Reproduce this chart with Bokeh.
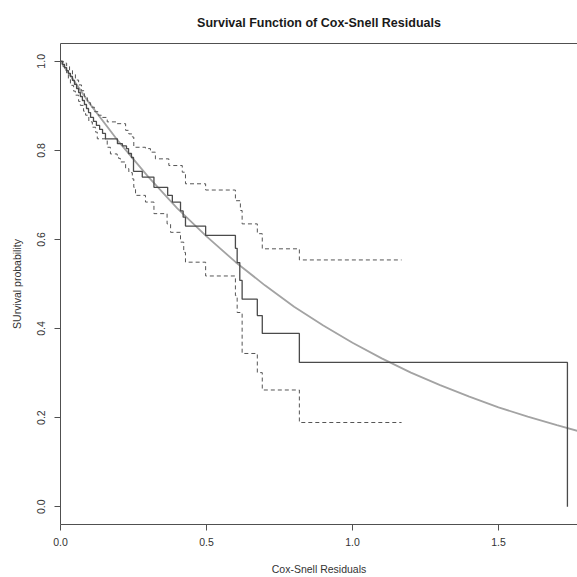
from bokeh.plotting import figure
from bokeh.models import Range1d, FixedTicker, PrintfTickFormatter, LinearAxis
from bokeh.embed import file_html
from bokeh.resources import INLINE

# Kaplan-Meier estimate of the Cox-Snell residuals (time of step, value after step)
km_time = [0.0, 0.007, 0.014, 0.021, 0.027, 0.034, 0.041, 0.048, 0.055, 0.062, 0.068,
           0.075, 0.082, 0.089, 0.096, 0.103, 0.113, 0.123, 0.134, 0.144, 0.154,
           0.195, 0.212, 0.226, 0.233, 0.243, 0.250, 0.280, 0.320, 0.367, 0.383,
           0.411, 0.420, 0.428, 0.497, 0.599, 0.605, 0.614, 0.622, 0.674, 0.691,
           0.818, 1.736]
km_surv = [1.0, 0.993, 0.986, 0.979, 0.973, 0.966, 0.957, 0.948, 0.939, 0.930, 0.921,
           0.912, 0.903, 0.894, 0.885, 0.874, 0.865, 0.856, 0.847, 0.838, 0.826,
           0.815, 0.810, 0.804, 0.793, 0.784, 0.753, 0.740, 0.717, 0.699, 0.684,
           0.664, 0.650, 0.630, 0.609, 0.580, 0.548, 0.508, 0.466, 0.429, 0.389,
           0.324, 0.0]

# upper confidence limit
upper_time = [0.0, 0.010, 0.021, 0.031, 0.041, 0.051, 0.062, 0.072, 0.082, 0.092, 0.103,
              0.116, 0.130, 0.140, 0.160, 0.194, 0.223, 0.234, 0.246, 0.251, 0.291,
              0.308, 0.325, 0.371, 0.417, 0.428, 0.497, 0.599, 0.616, 0.622, 0.674,
              0.691, 0.818, 1.168]
upper_surv = [1.0, 0.996, 0.988, 0.980, 0.971, 0.958, 0.947, 0.934, 0.921, 0.907, 0.897,
              0.887, 0.879, 0.874, 0.864, 0.860, 0.845, 0.837, 0.830, 0.807, 0.804,
              0.796, 0.781, 0.766, 0.751, 0.725, 0.711, 0.687, 0.665, 0.635, 0.613,
              0.579, 0.554, 0.554]

# lower confidence limit
lower_time = [0.0, 0.007, 0.014, 0.021, 0.027, 0.034, 0.045, 0.051, 0.062, 0.068, 0.079,
              0.086, 0.097, 0.109, 0.120, 0.126, 0.154, 0.160, 0.171, 0.194, 0.199,
              0.205, 0.223, 0.234, 0.246, 0.251, 0.257, 0.291, 0.320, 0.365, 0.377,
              0.411, 0.422, 0.428, 0.497, 0.599, 0.605, 0.622, 0.674, 0.691, 0.818,
              1.168]
lower_surv = [1.0, 0.989, 0.980, 0.971, 0.960, 0.946, 0.933, 0.924, 0.910, 0.901, 0.888,
              0.879, 0.864, 0.852, 0.841, 0.826, 0.822, 0.807, 0.792, 0.789, 0.782,
              0.774, 0.759, 0.750, 0.736, 0.717, 0.699, 0.684, 0.658, 0.635, 0.616,
              0.594, 0.571, 0.549, 0.518, 0.474, 0.436, 0.344, 0.301, 0.262, 0.189,
              0.189]

# reference curve (unit exponential survival)
curve_x = [0.0, 0.1, 0.2, 0.3, 0.4, 0.5, 0.6, 0.7, 0.8, 0.9, 1.0,
           1.1, 1.2, 1.3, 1.4, 1.5, 1.6, 1.7, 1.8]
curve_y = [1.0, 0.905, 0.819, 0.741, 0.670, 0.607, 0.549, 0.497, 0.449, 0.407, 0.368,
           0.333, 0.301, 0.273, 0.247, 0.223, 0.202, 0.183, 0.165]

x_ticks = [0.0, 0.5, 1.0, 1.5]
y_ticks = [0.0, 0.2, 0.4, 0.6, 0.8, 1.0]

FONT = "Liberation Sans"
AX = "#505050"

p = figure(width=577, height=577, output_backend="svg", toolbar_location=None,
           x_range=Range1d(0, 1.7705), y_range=Range1d(-0.04, 1.04),
           min_border_left=60, min_border_right=0, min_border_top=43, min_border_bottom=53,
           background_fill_color="white", border_fill_color="white")
p.grid.visible = False
p.outline_line_color = None

p.title.text = "Survival Function of Cox-Snell Residuals"
p.title.align = "center"
p.title.text_font = FONT
p.title.text_font_size = "12.5px"
p.title.text_font_style = "bold"
p.title.text_color = "#1a1a1a"
p.title.standoff = 27

for ax in (p.xaxis[0], p.yaxis[0]):
    ax.axis_line_color = AX
    ax.major_tick_line_color = AX
    ax.major_tick_out = 6
    ax.major_tick_in = 0
    ax.minor_tick_line_color = None
    ax.major_label_text_font = FONT
    ax.major_label_text_font_size = "10.5px"
    ax.major_label_text_color = "#333333"
    ax.axis_label_text_font = FONT
    ax.axis_label_text_font_size = "10.5px"
    ax.axis_label_text_font_style = "normal"
    ax.axis_label_text_color = "#333333"
    ax.formatter = PrintfTickFormatter(format="%.1f")

p.xaxis.ticker = FixedTicker(ticks=x_ticks)
p.yaxis.ticker = FixedTicker(ticks=y_ticks)
p.xaxis.axis_label = "Cox-Snell Residuals"
p.yaxis.axis_label = "SUrvival probability"
p.yaxis.major_label_orientation = "vertical"
p.xaxis.major_label_standoff = 7
p.yaxis.major_label_standoff = 9
p.xaxis.axis_label_standoff = 14
p.yaxis.axis_label_standoff = 12

top = LinearAxis(ticker=FixedTicker(ticks=[]), axis_line_color=AX,
                 major_tick_line_color=None, minor_tick_line_color=None,
                 major_label_text_font_size="0px")
p.add_layout(top, "above")

p.line(curve_x, curve_y, line_color="#a3a3a3", line_width=1.8)
p.step(upper_time, upper_surv, mode="after", line_color="#555555", line_width=1,
       line_dash="4 3")
p.step(lower_time, lower_surv, mode="after", line_color="#555555", line_width=1,
       line_dash="4 3")
p.step(km_time, km_surv, mode="after", line_color="#4a4a4a", line_width=1.3)

open("out.html", "w").write(file_html(p, INLINE))
